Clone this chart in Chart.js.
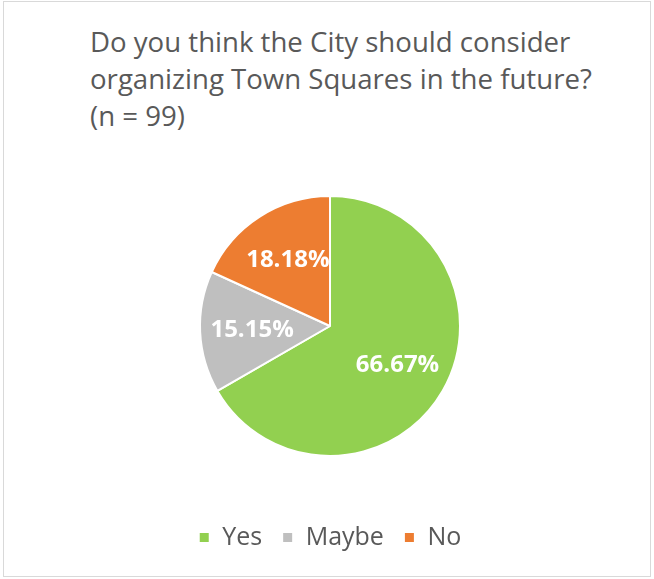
<!DOCTYPE html>
<html>
<head>
<meta charset="utf-8">
<script src="https://cdn.jsdelivr.net/npm/chart.js@4.4.1/dist/chart.umd.min.js"></script>
<style>
  html, body { margin: 0; padding: 0; background: #fff; }
  #wrap { position: relative; width: 654px; height: 579px; }
  #frame {
    position: absolute; left: 3px; top: 1px; width: 646px; height: 574px;
    border: 1px solid #d9d9d9;
  }
  #title {
    position: absolute; left: 90px; top: 23px;
    font-family: "Open Sans", sans-serif; font-size: 27.6px; line-height: 37px;
    color: #595959; white-space: nowrap;
  }
  #pie { position: absolute; left: 0; top: 0; }
</style>
</head>
<body>
<div id="wrap">
  <div id="frame"></div>
  <div id="title">Do you think the City should consider<br>organizing Town Squares in the future?<br>(n = 99)</div>
  <canvas id="pie" width="654" height="579"></canvas>
</div>
<script>
// Survey answers (percent of respondents)
const answers = ['Yes', 'Maybe', 'No'];
const shares = [66.67, 15.15, 18.18];
const sliceColors = ['#92d050', '#bfbfbf', '#ed7d31'];

// Write each slice's percentage inside the slice
const sliceLabels = {
  id: 'sliceLabels',
  afterDatasetsDraw(chart) {
    const ctx = chart.ctx;
    const meta = chart.getDatasetMeta(0);
    ctx.save();
    ctx.font = 'bold 24px "Open Sans", sans-serif';
    ctx.fillStyle = '#ffffff';
    ctx.textAlign = 'center';
    ctx.textBaseline = 'middle';
    meta.data.forEach((arc, i) => {
      const { x, y, startAngle, endAngle, outerRadius } = arc.getProps(['x', 'y', 'startAngle', 'endAngle', 'outerRadius'], true);
      const mid = (startAngle + endAngle) / 2;
      const r = outerRadius * 0.6;
      ctx.fillText(shares[i].toFixed(2) + '%', x + Math.cos(mid) * r, y + Math.sin(mid) * r);
    });
    ctx.restore();
  }
};

new Chart(document.getElementById('pie'), {
  type: 'pie',
  data: {
    labels: answers,
    datasets: [{
      data: shares,
      backgroundColor: sliceColors,
      borderColor: '#ffffff',
      borderWidth: 2,
      radius: 130
    }]
  },
  options: {
    responsive: false,
    animation: false,
    layout: { padding: { top: 147, left: 6, right: 0, bottom: 19 } },
    plugins: {
      tooltip: { enabled: false },
      legend: {
        position: 'bottom',
        labels: {
          boxWidth: 11,
          boxHeight: 11,
          padding: 20,
          color: '#595959',
          font: { family: '"Open Sans", sans-serif', size: 25 }
        }
      }
    }
  },
  plugins: [sliceLabels]
});
</script>
</body>
</html>
